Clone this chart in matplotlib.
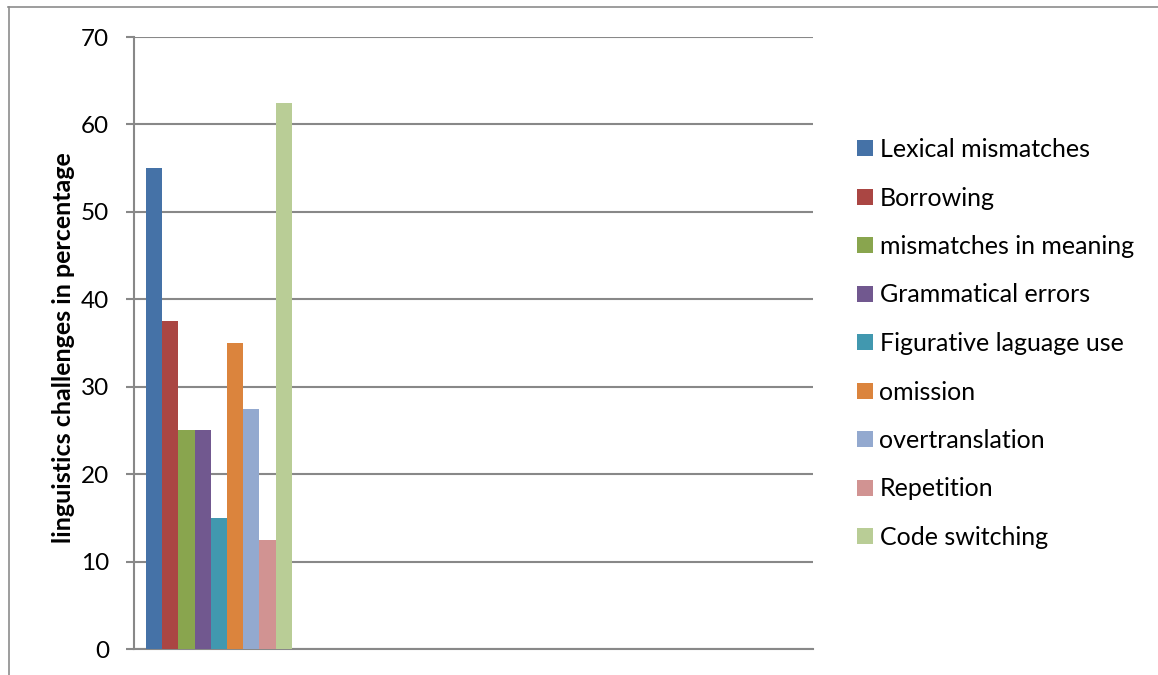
import matplotlib
matplotlib.use("Agg")
import matplotlib.pyplot as plt
from matplotlib.lines import Line2D
from matplotlib.patches import Patch
import numpy as np

series = ["Lexical mismatches", "Borrowing", "mismatches in meaning",
          "Grammatical errors", "Figurative laguage use", "omission",
          "overtranslation", "Repetition", "Code switching"]
values = [55, 37.5, 25, 25, 15, 35, 27.5, 12.5, 62.5]
colors = ["#4572A7", "#AA4643", "#89A54E", "#71588F", "#4198AF",
          "#DB843D", "#93A9CF", "#D19392", "#B9CD96"]
n_categories = 4  # chart has 4 category slots, only the first holds data
yticks = [0, 10, 20, 30, 40, 50, 60, 70]
ylabel = "linguistics challenges in percentage"

plt.rcParams['font.family'] = ['Lato', 'DejaVu Sans']

W, H = 1158, 675
fig = plt.figure(figsize=(W / 100, H / 100), dpi=100)
fig.patch.set_facecolor("white")

ax = fig.add_axes([134 / W, (H - 649) / H, (813 - 134) / W, (649 - 37) / H])

gray = "#888888"
group_w = 0.859
bw = group_w / len(series)
for i, (s, v, c) in enumerate(zip(series, values, colors)):
    x = -group_w / 2 + bw * (i + 0.5)
    ax.bar(x, v, width=bw, color=c, label=s, zorder=3, linewidth=0)

ax.set_xlim(-0.5, n_categories - 0.5)
ax.set_ylim(0, 70)
ax.set_yticks(yticks)
ax.set_xticks([])
ax.yaxis.grid(True, color=gray, linewidth=1.5, zorder=0)
ax.set_axisbelow(True)
for side in ["top", "right"]:
    ax.spines[side].set_visible(False)
ax.spines["left"].set_color(gray)
ax.spines["left"].set_linewidth(1.5)
ax.spines["bottom"].set_color(gray)
ax.spines["bottom"].set_linewidth(1.5)
ax.tick_params(axis="y", length=6, width=1.5, color=gray, pad=12,
               labelsize=17.5, labelcolor="black")
ax.set_ylabel(ylabel, fontsize=18, fontweight="bold", va="center")
ax.yaxis.set_label_coords((64 - 134) / 679, (649 - 347.5) / 612)

handles = [Patch(facecolor=c, edgecolor="none") for c in colors]
fig.legend(handles, series, loc="upper left",
           bbox_to_anchor=(847 / W, 1 - 128 / H), frameon=False,
           fontsize=18, handlelength=0.62, handleheight=0.62,
           handletextpad=0.28, labelspacing=1.02, borderaxespad=0)

# outer chart border (top and left visible)
fig.add_artist(Line2D([8 / W, 1.0], [1 - 6.5 / H, 1 - 6.5 / H],
                      transform=fig.transFigure, color="#8c8c8c", linewidth=1.2))
fig.add_artist(Line2D([8.5 / W, 8.5 / W], [0, 1 - 6.5 / H],
                      transform=fig.transFigure, color="#8c8c8c", linewidth=1.2))

fig.savefig("out.png", dpi=100, facecolor="white")
